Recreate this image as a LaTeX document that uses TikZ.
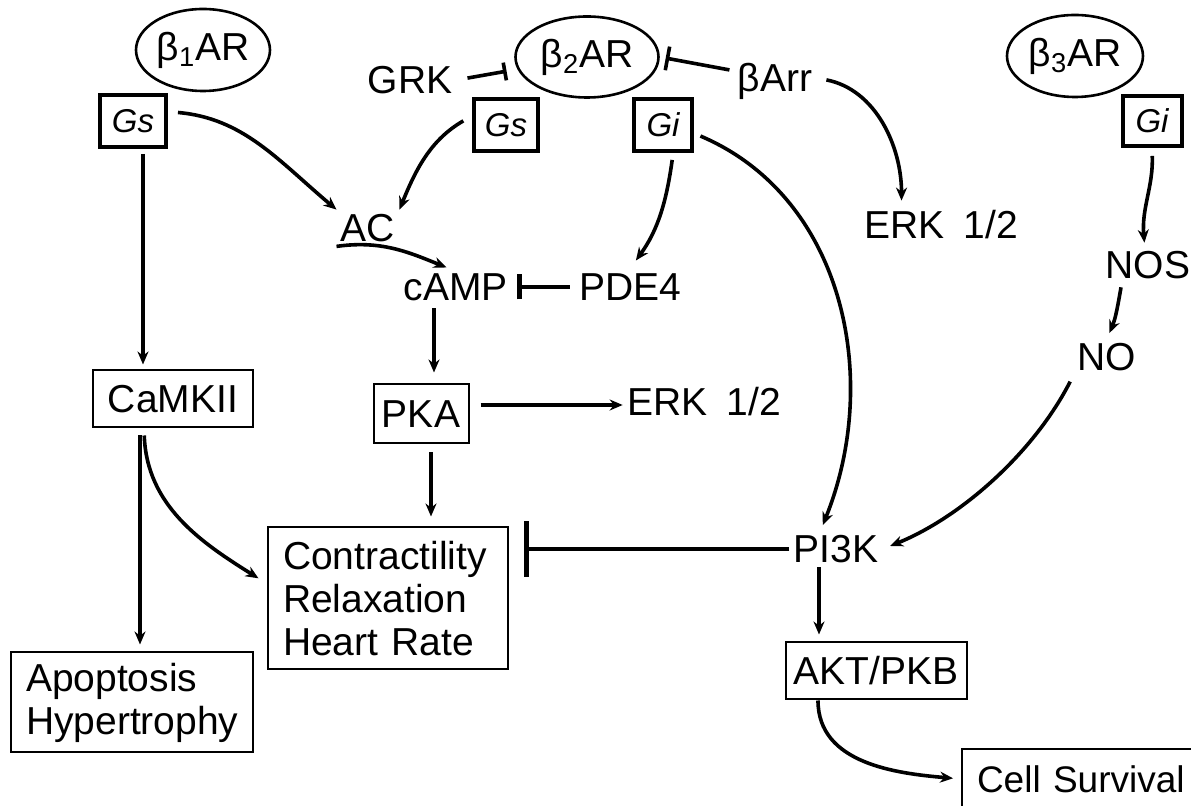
\documentclass[tikz,border=0pt]{standalone}
\usepackage{fontspec}
\setmainfont{Liberation Sans}
\usetikzlibrary{arrows.meta,shapes.geometric}

\begin{document}
\begin{tikzpicture}[x=0.5pt,y=0.5pt,
    font=\fontsize{19.5}{21.5}\selectfont,
    lbl/.style={inner sep=2pt, text height=14pt, text depth=0pt},
    rcpt/.style={draw, ellipse, line width=1.3pt, inner sep=0pt},
    gbox/.style={draw, line width=2pt, inner sep=0pt, minimum height=26pt,
        font=\fontsize{16.5}{18}\selectfont\itshape},
    box/.style={draw, line width=1pt, inner sep=0pt, minimum height=28.5pt,
        text height=14pt, text depth=0pt},
    arr/.style={line width=1.8pt, -{Stealth[length=6.5pt,width=5.5pt]}},
    inh/.style={line width=2.3pt, -{Bar[width=#1]}}]

    \useasboundingbox (0,0) rectangle (1191,-806);

    % Receptors
    \node[rcpt, minimum width=67pt, minimum height=41pt] (b1) at (203,-50) {β\textsubscript{1}AR};
    \node[rcpt, minimum width=71.5pt, minimum height=40.5pt] (b2) at (587,-57) {β\textsubscript{2}AR};
    \node[rcpt, minimum width=68pt, minimum height=41pt] (b3) at (1075,-56) {β\textsubscript{3}AR};

    % G proteins
    \node[gbox, minimum width=33pt] (gsA) at (133,-121) {Gs};
    \node[gbox, minimum width=32pt] (gsB) at (506,-125) {Gs};
    \node[gbox, minimum width=29pt] (giB) at (663,-125) {Gi};
    \node[gbox, minimum width=29.5pt, minimum height=25pt] (giC) at (1152,-121) {Gi};

    % Messengers
    \node[lbl] (grk) at (410,-80) {GRK};
    \node[lbl] (barr) at (775,-78) {βArr};
    \node[lbl] (ac) at (368,-228) {AC};
    \node[lbl] (camp) at (456,-287) {cAMP};
    \node[lbl] (pde) at (630,-287) {PDE4};
    \node[lbl] (erkA) at (941,-225) {ERK\enspace 1/2};
    \node[lbl] (nos) at (1148,-265) {NOS};
    \node[lbl] (no) at (1107,-357) {NO};
    \node[lbl] (erkB) at (704,-402) {ERK\enspace 1/2};
    \node[lbl] (pik) at (836,-549) {PI3K};

    % Kinases and outcomes
    \node[box, minimum width=80pt] (camk) at (173,-399) {CaMKII};
    \node[box, minimum width=47.5pt, minimum height=29.5pt] (pka) at (421,-414) {PKA};
    \node[box, minimum width=90.5pt] (akt) at (876,-671) {AKT/PKB};
    \node[draw, line width=1pt, align=left, text width=105pt, inner xsep=7.5pt,
        minimum height=71pt] (contr) at (388,-598.5) {Contractility\\Relaxation\\Heart Rate};
    \node[draw, line width=1pt, align=left, text width=106pt, inner xsep=7.5pt,
        minimum height=50pt] (apop) at (132,-702.5) {Apoptosis\\Hypertrophy};
    \node[draw, line width=1pt, anchor=north west, text width=112pt, inner xsep=7.5pt,
        minimum height=30pt, text height=13.3pt, text depth=0pt,
        font=\fontsize{18.5}{21}\selectfont] (cell) at (961,-748) {Cell Survival};

    % beta1 branch
    \draw[arr, shorten <=5pt] (gsA.15) to[out=-5,in=140] (ac.north west);
    \draw[arr, shorten <=2.5pt, shorten >=2.5pt] ([xshift=5pt]gsA.south) -- ([xshift=5pt]gsA.south |- camk.north);
    \draw[arr, shorten <=3.5pt, shorten >=3.5pt] ([xshift=-16.5pt]camk.south) -- ([xshift=-16.5pt]camk.south |- apop.north);
    \draw[arr, shorten <=3.5pt, shorten >=5pt] ([xshift=-14.5pt]camk.south) to[out=-88,in=148] (contr.173);

    % beta2 branch
    \draw[inh=9pt, line width=1.8pt, shorten <=5.5pt, shorten >=5.5pt] (grk.east) -- (b2.190);
    \draw[inh=12pt, line width=1.8pt, shorten <=2pt, shorten >=3pt] (barr.170) -- (b2.east);
    \draw[arr, shorten <=5pt] (gsB.165) to[out=210,in=68] (ac.north east);
    \draw[arr, shorten <=5pt, shorten >=3pt] (barr.east) to[out=-11,in=90] (erkA.155);
    \draw[arr, shorten <=3.5pt, shorten >=5pt] (giB.-70) to[out=-98,in=54] (pde.north);
    \draw[arr, shorten <=3.5pt, shorten >=3pt] (giB.-15) to[out=-23,in=68] (pik.130);
    \draw[arr, shorten >=1.5pt] (ac.south west) to[out=8,in=158] (camp.110);
    \draw[inh=12.5pt, shorten <=2.5pt] (pde.west) -- ([xshift=2.5pt]camp.east);
    \draw[arr, shorten <=1.5pt, shorten >=5.5pt] ([xshift=-11pt]camp.south) -- ([xshift=-11pt]camp.south |- pka.north);
    \draw[arr, shorten <=4pt, shorten >=5pt] ([xshift=5pt]pka.south) -- ([xshift=5pt]pka.south |- contr.north);
    \draw[arr, shorten <=5.5pt] ([yshift=4.5pt]pka.east) -- ([yshift=4.5pt]pka.east -| erkB.west);

    % beta3 branch
    \draw[arr, shorten <=4pt, shorten >=2pt] (giC.south) to[out=-88,in=95] (nos.100);
    \draw[arr, shorten <=2pt, shorten >=3pt] (nos.215) to[out=-100,in=67] (no.north);
    \draw[arr, shorten <=3.5pt, shorten >=4pt] (no.south west) to[out=243,in=22,looseness=0.85] (pik.east);

    % PI3K
    \draw[inh=28pt, shorten >=7.5pt] (pik.west) -- (pik.west -| contr.east);
    \draw[arr, shorten >=3.5pt] ([xshift=-8.5pt]pik.south) -- ([xshift=-8.5pt]pik.south |- akt.north);
    \draw[arr, shorten >=4pt] ([xshift=-29pt]akt.south) to[out=-90,in=175] (cell.west);

\end{tikzpicture}
\end{document}
